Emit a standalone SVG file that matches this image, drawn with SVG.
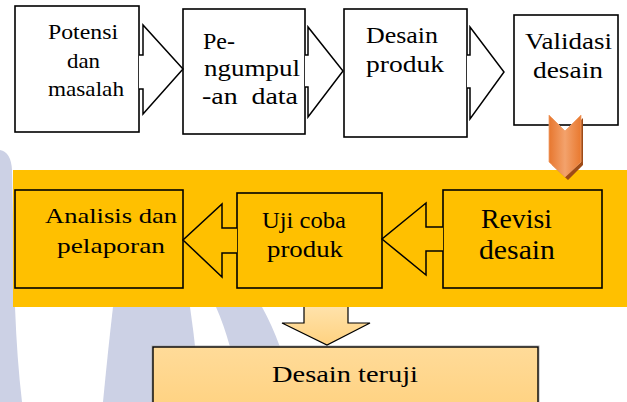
<svg xmlns="http://www.w3.org/2000/svg" width="627" height="402" viewBox="0 0 627 402">
<defs>
<style>
.box{fill:#ffffff;stroke:#000;stroke-width:1.6}
.ybox{fill:#FFC000;stroke:#000;stroke-width:1.6}
.arr{fill:#ffffff;stroke:#000;stroke-width:1.5;stroke-linejoin:miter}
.yarr{fill:#FFC000;stroke:#000;stroke-width:1.5;stroke-linejoin:miter}
.t{font-family:"Liberation Serif","Times New Roman",serif;fill:#000}
.wm{fill:#CCD1E5}
</style>
<linearGradient id="org" x1="0" y1="0" x2="1" y2="0">
<stop offset="0" stop-color="#E7772F"/>
<stop offset="0.5" stop-color="#F3A26C"/>
<stop offset="1" stop-color="#E9792F"/>
</linearGradient>
<linearGradient id="lt" x1="0" y1="0" x2="0" y2="1">
<stop offset="0" stop-color="#FFE2AA"/>
<stop offset="1" stop-color="#FFD280"/>
</linearGradient>
<linearGradient id="lt2" x1="0" y1="0" x2="0" y2="1">
<stop offset="0" stop-color="#FFDB99"/>
<stop offset="1" stop-color="#FFD17E"/>
</linearGradient>
</defs>
<rect width="627" height="402" fill="#ffffff"/>
<g id="watermark">
<path class="wm" d="M0,150 Q11,152 12,170 L15,307 Q17,360 22,402 L0,402 Z"/>
<path class="wm" d="M113,307 L190,307 Q197,355 200,402 L103,402 Q108,350 113,307 Z"/>
<path class="wm" d="M216,307 L262,307 Q272,325 280,347 L230,347 Q224,325 216,307 Z"/>
</g>
<rect id="band" x="13" y="170" width="614" height="137" fill="#FFC000"/>
<g id="n1">
<rect class="box" x="15" y="6" width="124" height="126"/>
<text class="t" font-size="22" x="48" y="39" textLength="70" lengthAdjust="spacingAndGlyphs">Potensi</text>
<text class="t" font-size="22" x="67" y="68" textLength="33" lengthAdjust="spacingAndGlyphs">dan</text>
<text class="t" font-size="22" x="48" y="96" textLength="76" lengthAdjust="spacingAndGlyphs">masalah</text>
</g>
<g id="n2">
<rect class="box" x="183" y="9" width="122" height="125"/>
<text class="t" font-size="24" x="203" y="49">Pe-</text>
<text class="t" font-size="24" x="204" y="76" textLength="96" lengthAdjust="spacingAndGlyphs">ngumpul</text>
<text class="t" font-size="24" x="202" y="104" textLength="96" lengthAdjust="spacingAndGlyphs" xml:space="preserve">-an  data</text>
</g>
<g id="n3">
<rect class="box" x="344" y="9" width="123" height="128"/>
<text class="t" font-size="23" x="366" y="43" textLength="72" lengthAdjust="spacingAndGlyphs">Desain</text>
<text class="t" font-size="23" x="366" y="72" textLength="78" lengthAdjust="spacingAndGlyphs">produk</text>
</g>
<g id="n4">
<rect class="box" x="514" y="15" width="104" height="110"/>
<text class="t" font-size="23" x="525" y="49" textLength="87" lengthAdjust="spacingAndGlyphs">Validasi</text>
<text class="t" font-size="23" x="533" y="78" textLength="70" lengthAdjust="spacingAndGlyphs">desain</text>
</g>
<g id="n5">
<rect class="ybox" x="15" y="190" width="168" height="98"/>
<text class="t" font-size="22" x="45" y="223" textLength="132" lengthAdjust="spacingAndGlyphs">Analisis dan</text>
<text class="t" font-size="22" x="57" y="253" textLength="108" lengthAdjust="spacingAndGlyphs">pelaporan</text>
</g>
<g id="n6">
<rect class="ybox" x="237" y="193" width="145" height="95"/>
<text class="t" font-size="23" x="262" y="228" textLength="84" lengthAdjust="spacingAndGlyphs">Uji coba</text>
<text class="t" font-size="23" x="267" y="257" textLength="76" lengthAdjust="spacingAndGlyphs">produk</text>
</g>
<g id="n7">
<rect class="ybox" x="443" y="190" width="159" height="98"/>
<text class="t" font-size="27" x="481" y="228" textLength="71" lengthAdjust="spacingAndGlyphs">Revisi</text>
<text class="t" font-size="27" x="479" y="259" textLength="76" lengthAdjust="spacingAndGlyphs">desain</text>
</g>
<g id="n8">
<rect x="152" y="346" width="387" height="70" fill="none" stroke="#B0B0B0" stroke-width="1"/>
<rect x="153" y="347" width="385" height="70" fill="url(#lt2)" stroke="#000" stroke-width="1.4"/>
<text class="t" font-size="24" x="272" y="382" textLength="146" lengthAdjust="spacingAndGlyphs">Desain teruji</text>
</g>
<g id="connectors">
<path class="arr" d="M139,55 L143,55 L143,25 L183,69 L143,114 L143,89 L139,89"/>
<path class="arr" d="M305,55 L308,55 L308,27 L343,71 L308,117 L308,87 L305,87"/>
<path class="arr" d="M467,55 L470,55 L470,27 L504,72 L470,119 L470,88 L467,88"/>
<path class="yarr" d="M237,228 L222,228 L222,204 L183,240 L222,277 L222,253 L237,253"/>
<path class="yarr" d="M443,227 L426,227 L426,203 L382,239 L426,275 L426,251 L443,251"/>
<path d="M304,307 L304,323 L282,323 L327,345 L370,323 L348,323 L348,307" fill="url(#lt)" stroke="#000" stroke-width="1.2"/>
<polygon points="552,118 567,134 583,118 583,165 568,180 552,165" fill="#9E4B17"/>
<polygon points="549,115 565,131 581,115 581,162 565,177 549,162" fill="url(#org)" stroke="#F0A06A" stroke-width="0.8"/>
</g>
</svg>
